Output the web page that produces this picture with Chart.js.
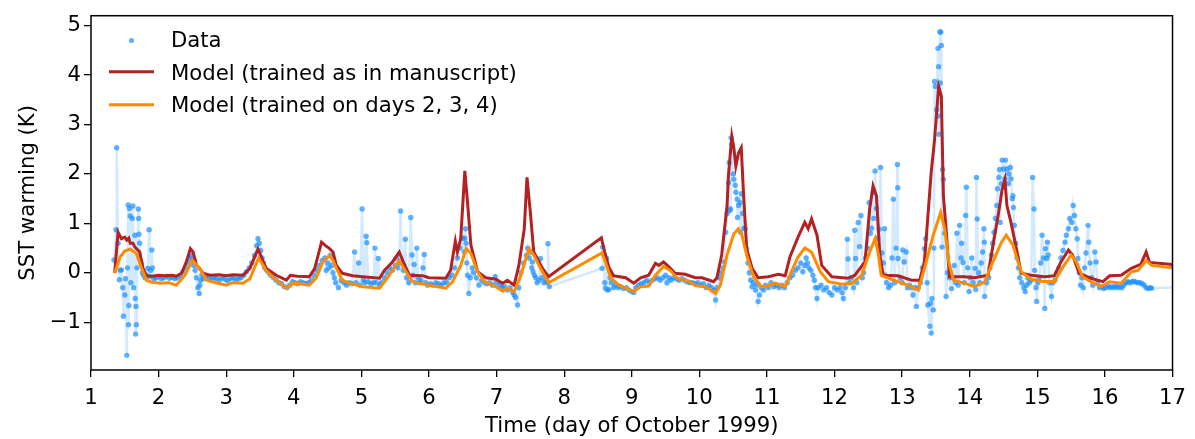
<!DOCTYPE html>
<html>
<head>
<meta charset="utf-8">
<script src="https://cdn.jsdelivr.net/npm/chart.js@4"></script>
<style>
  html, body { margin: 0; padding: 0; background: #fff; }
  #wrap { width: 1195px; height: 439px; }
</style>
</head>
<body>
<div id="wrap"><canvas id="sstChart" width="1195" height="439"></canvas></div>
<script>
// observed SST warming, [day of October 1999, K]
const obsPoints = [
  [1.34,0.26],[1.37,0.87],[1.38,2.53],[1.40,0.6],[1.42,-0.14],[1.43,0.05],[1.45,0.06],[1.47,-0.3],[1.48,-0.88],[1.50,-0.45],
  [1.51,-0.12],[1.53,-1.67],[1.54,0.1],[1.55,1.37],[1.555,-1.05],[1.56,-0.66],[1.57,1.3],[1.58,1.15],[1.59,-0.2],[1.61,1.1],
  [1.62,1.35],[1.63,-0.3],[1.65,0.76],[1.655,-0.52],[1.66,-1.24],[1.665,-0.68],[1.67,-1.05],[1.68,0.1],[1.70,1.29],[1.705,1.1],
  [1.71,0.78],[1.715,0.34],[1.72,0.6],[1.74,0.2],[1.76,0.0],[1.78,-0.05],[1.80,-0.1],[1.82,-0.05],[1.84,0.09],[1.86,0.87],
  [1.87,-0.08],[1.88,0.05],[1.90,0.46],[1.91,0.1],[1.93,-0.12],[1.96,-0.1],[2.00,-0.08],[2.04,-0.12],[2.08,-0.1],[2.12,-0.07],
  [2.16,-0.11],[2.20,-0.09],[2.24,-0.12],[2.28,-0.1],[2.32,-0.05],[2.36,0.02],[2.40,0.1],[2.43,0.2],[2.46,0.3],[2.48,0.35],
  [2.50,0.25],[2.52,0.15],[2.54,0.05],[2.56,-0.1],[2.58,-0.3],[2.60,-0.42],[2.61,-0.25],[2.62,-0.15],[2.64,-0.05],[2.66,-0.12],
  [2.70,-0.08],[2.74,-0.1],[2.78,-0.14],[2.82,-0.1],[2.86,-0.12],[2.90,-0.15],[2.94,-0.1],[2.98,-0.13],[3.02,-0.16],[3.06,-0.12],
  [3.10,-0.1],[3.14,-0.14],[3.18,-0.12],[3.22,-0.1],[3.26,-0.05],[3.30,0.02],[3.34,0.1],[3.38,0.2],[3.42,0.35],[3.45,0.55],
  [3.47,0.69],[3.49,0.6],[3.51,0.45],[3.53,0.3],[3.55,0.2],[3.57,0.1],[3.60,0.05],[3.63,0.0],[3.66,-0.05],[3.70,-0.1],
  [3.74,-0.15],[3.78,-0.2],[3.82,-0.22],[3.86,-0.28],[3.90,-0.3],[3.94,-0.25],[3.98,-0.18],[4.02,-0.2],[4.06,-0.22],[4.10,-0.18],
  [4.14,-0.2],[4.18,-0.22],[4.22,-0.2],[4.26,-0.15],[4.30,-0.05],[4.34,0.05],[4.38,0.15],[4.42,0.25],[4.46,0.3],[4.48,0.05],
  [4.50,0.2],[4.52,0.1],[4.54,0.35],[4.56,0.15],[4.58,0.0],[4.60,-0.1],[4.62,-0.2],[4.66,-0.3],[4.70,-0.15],[4.74,-0.2],
  [4.78,-0.25],[4.82,-0.2],[4.86,-0.22],[4.90,0.42],[4.92,-0.2],[4.96,0.2],[4.98,-0.25],[5.01,1.29],[5.03,-0.15],[5.05,-0.2],
  [5.07,0.74],[5.08,0.61],[5.10,-0.18],[5.14,-0.22],[5.18,-0.2],[5.20,0.5],[5.22,-0.2],[5.25,0.29],[5.27,-0.25],[5.30,-0.2],
  [5.34,-0.1],[5.38,0.0],[5.42,0.1],[5.46,0.05],[5.50,0.15],[5.52,0.3],[5.54,0.1],[5.56,0.2],[5.58,1.25],[5.60,0.2],
  [5.62,0.05],[5.65,0.68],[5.67,-0.1],[5.70,-0.2],[5.73,1.12],[5.75,0.36],[5.76,-0.05],[5.78,0.17],[5.80,-0.2],[5.82,0.5],
  [5.84,-0.1],[5.86,-0.2],[5.88,-0.15],[5.91,0.1],[5.93,0.37],[5.95,-0.2],[5.98,-0.25],[6.02,-0.22],[6.06,-0.25],[6.10,-0.2],
  [6.14,-0.22],[6.18,-0.25],[6.22,-0.2],[6.26,-0.2],[6.30,-0.1],[6.34,-0.05],[6.38,0.1],[6.42,0.3],[6.46,0.5],[6.50,0.7],
  [6.52,0.42],[6.53,0.7],[6.54,0.89],[6.55,0.6],[6.56,0.2],[6.57,-0.05],[6.59,-0.42],[6.61,-0.1],[6.64,0.1],[6.66,0.0],
  [6.70,-0.1],[6.74,-0.25],[6.78,-0.15],[6.82,-0.2],[6.86,-0.22],[6.90,-0.2],[6.94,-0.25],[6.98,-0.08],[7.00,-0.2],[7.05,-0.25],
  [7.08,-0.3],[7.12,-0.28],[7.16,-0.35],[7.20,-0.3],[7.24,-0.4],[7.26,-0.45],[7.28,-0.5],[7.31,-0.65],[7.33,-0.3],[7.36,0.0],
  [7.40,0.2],[7.44,0.35],[7.46,0.5],[7.48,0.3],[7.50,0.42],[7.52,0.1],[7.53,0.22],[7.54,0.02],[7.56,-0.05],[7.58,-0.1],
  [7.60,-0.2],[7.63,-0.15],[7.65,0.29],[7.67,-0.1],[7.70,-0.2],[7.73,-0.15],[7.75,-0.2],[7.76,0.59],[7.78,-0.28],
  [8.56,0.09],[8.57,0.52],[8.60,-0.2],[8.61,-0.31],[8.63,0.29],[8.64,-0.35],[8.66,-0.34],[8.68,-0.1],[8.70,-0.2],[8.73,-0.3],
  [8.76,-0.25],[8.80,-0.3],[8.84,-0.28],[8.88,-0.32],[8.92,-0.3],[8.96,-0.35],[9.00,-0.38],[9.03,-0.4],[9.06,-0.3],[9.10,-0.25],
  [9.14,-0.22],[9.18,-0.2],[9.22,-0.15],[9.26,-0.2],[9.30,-0.15],[9.34,-0.12],[9.38,-0.1],[9.42,-0.15],[9.46,-0.1],[9.50,-0.05],
  [9.52,-0.2],[9.55,-0.1],[9.58,-0.15],[9.62,-0.1],[9.66,-0.12],[9.70,-0.15],[9.74,-0.12],[9.78,-0.15],[9.82,-0.18],[9.86,-0.2],
  [9.90,-0.2],[9.94,-0.22],[9.98,-0.2],[10.02,-0.25],[10.06,-0.22],[10.10,-0.3],[10.14,-0.25],[10.18,-0.3],[10.22,-0.35],[10.24,-0.55],
  [10.26,-0.3],[10.29,-0.1],[10.32,0.0],[10.35,0.1],[10.37,0.22],[10.39,0.82],[10.41,1.2],[10.43,1.82],[10.44,2.23],[10.45,1.26],
  [10.46,1.29],[10.47,2.73],[10.48,2.6],[10.50,2.0],[10.51,1.89],[10.53,1.77],[10.54,1.63],[10.56,1.49],[10.565,1.12],[10.58,1.36],
  [10.60,1.42],[10.61,0.82],[10.62,1.6],[10.64,1.2],[10.66,0.9],[10.68,0.89],[10.70,0.49],[10.72,0.2],[10.74,0.0],[10.76,-0.15],
  [10.78,-0.28],[10.80,-0.2],[10.83,-0.35],[10.85,-0.25],[10.87,-0.58],[10.89,-0.45],[10.92,-0.3],[10.95,-0.35],[10.98,-0.25],[11.02,-0.3],
  [11.06,-0.2],[11.10,-0.28],[11.14,-0.25],[11.18,-0.3],[11.22,-0.25],[11.26,-0.3],[11.30,-0.2],[11.34,-0.1],[11.38,-0.05],[11.42,0.05],
  [11.46,0.1],[11.50,0.2],[11.53,0.02],[11.56,0.15],[11.58,0.3],[11.60,0.2],[11.62,0.1],[11.65,0.05],[11.68,-0.05],[11.70,-0.15],
  [11.72,-0.3],[11.74,-0.52],[11.76,-0.3],[11.80,-0.25],[11.84,-0.35],[11.88,-0.3],[11.92,-0.4],[11.96,-0.45],[12.00,-0.3],[12.04,-0.35],
  [12.08,-0.3],[12.11,-0.4],[12.13,-0.52],[12.16,-0.3],[12.19,0.68],[12.20,0.28],[12.22,-0.2],[12.25,-0.1],[12.28,-0.3],[12.30,0.86],
  [12.31,0.29],[12.33,-0.2],[12.35,1.02],[12.37,0.53],[12.39,1.16],[12.41,-0.1],[12.43,0.0],[12.46,0.3],[12.49,0.5],[12.51,1.42],
  [12.53,0.8],[12.55,0.9],[12.57,1.62],[12.58,1.1],[12.60,2.06],[12.62,1.3],[12.64,0.7],[12.66,0.88],[12.68,2.13],[12.70,0.4],
  [12.72,0.2],[12.74,0.89],[12.75,-0.05],[12.77,-0.2],[12.80,-0.3],[12.83,-0.25],[12.85,0.3],[12.87,1.49],[12.89,-0.2],[12.91,0.5],
  [12.93,2.19],[12.935,1.72],[12.94,0.29],[12.97,-0.1],[13.00,-0.2],[13.01,0.46],[13.03,0.22],[13.06,0.42],[13.08,-0.3],[13.11,-0.25],
  [13.14,-0.3],[13.16,-0.45],[13.19,-0.3],[13.21,-0.68],[13.24,-0.3],[13.27,-0.2],[13.30,0.1],[13.33,0.49],[13.35,0.69],[13.37,-0.2],
  [13.38,-0.65],[13.41,-1.08],[13.42,-0.62],[13.43,-1.22],[13.44,-0.52],[13.46,-0.75],[13.47,0.5],[13.48,3.87],[13.49,3.77],[13.51,3.3],
  [13.53,4.54],[13.535,3.17],[13.54,4.17],[13.545,2.8],[13.56,4.87],[13.565,3.84],[13.57,4.87],[13.58,4.6],[13.59,0.52],[13.60,2.09],
  [13.61,1.89],[13.63,0.8],[13.65,-0.48],[13.67,0.0],[13.70,-0.1],[13.73,-0.32],[13.75,-0.1],[13.77,0.15],[13.79,-0.2],[13.81,0.8],
  [13.83,-0.25],[13.85,0.96],[13.87,0.3],[13.88,0.6],[13.90,0.21],[13.92,-0.2],[13.94,1.16],[13.95,1.73],[13.97,0.1],[13.99,-0.38],
  [14.01,-0.1],[14.03,0.3],[14.05,-0.2],[14.08,0.09],[14.09,-0.34],[14.10,1.93],[14.11,1.09],[14.13,0.0],[14.15,-0.2],[14.17,0.2],
  [14.19,0.42],[14.21,0.89],[14.215,0.62],[14.22,-0.48],[14.25,-0.2],[14.28,-0.1],[14.30,0.1],[14.32,0.36],[14.34,0.6],[14.36,0.82],
  [14.38,1.1],[14.40,1.36],[14.41,1.7],[14.43,1.93],[14.44,2.09],[14.45,1.02],[14.47,1.8],[14.48,2.28],[14.50,2.1],[14.52,1.9],
  [14.53,2.28],[14.55,2.1],[14.57,1.8],[14.58,2.0],[14.60,2.13],[14.61,1.9],[14.63,1.5],[14.64,1.56],[14.645,1.32],[14.66,0.96],
  [14.68,0.6],[14.70,0.3],[14.72,0.1],[14.74,-0.1],[14.77,-0.2],[14.80,-0.3],[14.82,-0.38],[14.84,-0.25],[14.86,-0.1],[14.88,-0.2],
  [14.91,-0.15],[14.93,1.93],[14.95,1.29],[14.96,0.05],[14.98,-0.3],[14.99,-0.58],[15.01,-0.2],[15.03,-0.1],[15.05,0.2],[15.07,0.76],
  [15.09,0.3],[15.11,-0.72],[15.12,0.49],[15.14,0.29],[15.15,0.62],[15.16,0.36],[15.18,-0.2],[15.21,-0.48],[15.23,-0.2],[15.26,-0.15],
  [15.29,0.0],[15.32,0.1],[15.35,0.3],[15.38,0.45],[15.41,0.62],[15.43,0.76],[15.46,0.89],[15.48,1.1],[15.51,1.02],[15.53,1.36],
  [15.55,1.16],[15.57,0.89],[15.59,0.69],[15.60,0.29],[15.62,0.0],[15.64,-0.25],[15.66,-0.1],[15.68,-0.3],[15.70,0.1],[15.72,0.4],
  [15.75,0.96],[15.76,0.62],[15.78,0.2],[15.80,-0.1],[15.82,-0.25],[15.85,0.42],[15.87,0.22],[15.89,-0.2],[15.92,-0.3],[15.95,-0.28],
  [15.98,-0.32],[16.01,-0.3],[16.04,-0.26],[16.07,-0.3],[16.10,-0.28],[16.13,-0.3],[16.16,-0.27],[16.19,-0.3],[16.22,-0.28],[16.25,-0.3],
  [16.28,-0.25],[16.31,-0.2],[16.34,-0.18],[16.37,-0.2],[16.40,-0.18],[16.43,-0.17],[16.46,-0.19],[16.49,-0.2],[16.52,-0.2],[16.55,-0.22],
  [16.58,-0.25],[16.61,-0.3],[16.64,-0.32],[16.67,-0.3],[16.69,-0.31],[17.3,-0.29]
];

// model trained as in manuscript
const modelManuscript = [
  [1.35,0.0],[1.40,0.82],[1.45,0.69],[1.50,0.72],[1.53,0.66],[1.56,0.7],[1.58,0.6],[1.62,0.6],[1.65,0.52],[1.72,0.42],
  [1.77,0.09],[1.82,-0.06],[1.9,-0.07],[2.0,-0.05],[2.1,-0.06],[2.2,-0.05],[2.26,-0.07],[2.34,-0.01],[2.41,0.22],[2.47,0.49],
  [2.51,0.42],[2.56,0.16],[2.66,-0.01],[2.76,-0.05],[2.9,-0.04],[3.0,-0.06],[3.1,-0.04],[3.25,-0.05],[3.35,0.09],[3.47,0.48],
  [3.52,0.32],[3.59,0.09],[3.74,-0.05],[3.89,-0.15],[3.95,-0.05],[4.05,-0.07],[4.23,-0.08],[4.31,0.09],[4.41,0.62],[4.47,0.55],
  [4.53,0.49],[4.58,0.42],[4.63,0.15],[4.72,-0.01],[4.87,-0.06],[5.02,-0.08],[5.27,-0.11],[5.34,0.05],[5.46,0.22],[5.56,0.42],
  [5.62,0.22],[5.71,-0.05],[5.91,-0.06],[6.0,-0.1],[6.25,-0.11],[6.32,0.05],[6.39,0.64],[6.42,0.42],[6.47,0.69],[6.53,2.06],
  [6.57,1.43],[6.62,0.56],[6.72,0.02],[6.84,-0.1],[6.99,-0.13],[7.09,-0.21],[7.16,-0.15],[7.26,-0.25],[7.33,0.15],[7.41,0.89],
  [7.45,1.93],[7.50,1.22],[7.55,0.42],[7.68,0.09],[7.77,-0.08],[8.55,0.71],[8.60,0.42],[8.66,0.12],[8.73,-0.06],[8.91,-0.1],
  [9.03,-0.21],[9.13,-0.1],[9.25,-0.05],[9.35,0.19],[9.40,0.15],[9.47,0.22],[9.55,0.12],[9.64,-0.01],[9.79,-0.03],[9.94,-0.1],
  [10.04,-0.1],[10.21,-0.18],[10.26,-0.1],[10.33,0.36],[10.41,1.36],[10.43,1.96],[10.48,2.76],[10.51,2.53],[10.54,2.16],[10.58,2.43],
  [10.62,2.53],[10.65,1.69],[10.70,0.49],[10.78,0.09],[10.87,-0.1],[11.02,-0.08],[11.17,-0.03],[11.27,-0.06],[11.34,0.32],[11.46,0.72],
  [11.56,1.02],[11.61,0.89],[11.66,1.09],[11.74,0.76],[11.81,0.15],[11.96,-0.08],[12.2,-0.11],[12.3,-0.05],[12.45,0.22],[12.52,1.29],
  [12.57,1.76],[12.62,1.56],[12.67,0.36],[12.72,-0.05],[12.94,-0.06],[13.14,-0.15],[13.26,-0.15],[13.33,0.22],[13.43,2.03],[13.48,2.70],
  [13.54,3.77],[13.58,3.57],[13.61,1.56],[13.65,0.89],[13.70,-0.08],[13.92,-0.08],[14.07,-0.1],[14.27,-0.05],[14.32,0.36],[14.42,1.16],
  [14.48,1.69],[14.52,1.89],[14.55,1.36],[14.61,1.02],[14.69,0.49],[14.76,-0.01],[14.91,-0.05],[15.11,-0.08],[15.25,-0.06],[15.35,0.22],
  [15.46,0.46],[15.52,0.36],[15.62,-0.01],[15.79,-0.11],[15.97,-0.18],[16.07,-0.06],[16.24,-0.05],[16.39,0.09],[16.53,0.17],[16.61,0.42],
  [16.66,0.21],[17.0,0.17]
];

// model trained on days 2, 3, 4
const modelDays234 = [
  [1.35,-0.01],[1.43,0.32],[1.50,0.44],[1.58,0.48],[1.67,0.39],[1.75,0.09],[1.82,-0.15],[1.9,-0.19],[2.02,-0.21],[2.15,-0.2],
  [2.26,-0.25],[2.39,-0.05],[2.50,0.25],[2.61,0.09],[2.71,-0.15],[2.85,-0.2],[3.0,-0.25],[3.1,-0.2],[3.25,-0.21],[3.35,-0.12],
  [3.48,0.30],[3.59,0.05],[3.74,-0.15],[3.89,-0.31],[3.99,-0.21],[4.1,-0.22],[4.23,-0.25],[4.33,-0.11],[4.43,0.22],[4.53,0.35],
  [4.58,0.25],[4.63,0.09],[4.72,-0.15],[4.82,-0.21],[5.02,-0.28],[5.27,-0.31],[5.36,-0.15],[5.46,0.05],[5.56,0.25],[5.66,0.02],
  [5.76,-0.18],[6.0,-0.25],[6.25,-0.31],[6.35,-0.18],[6.47,0.15],[6.55,0.49],[6.62,0.39],[6.72,0.02],[6.82,-0.18],[6.99,-0.28],
  [7.09,-0.37],[7.16,-0.31],[7.26,-0.38],[7.36,-0.05],[7.48,0.49],[7.55,0.36],[7.65,0.09],[7.77,-0.2],[8.56,0.40],[8.61,0.22],
  [8.69,-0.11],[8.81,-0.25],[9.03,-0.38],[9.13,-0.28],[9.25,-0.27],[9.35,-0.05],[9.47,0.13],[9.57,0.05],[9.67,-0.11],[9.84,-0.17],
  [9.94,-0.26],[10.09,-0.28],[10.24,-0.42],[10.31,-0.25],[10.41,0.36],[10.51,0.79],[10.58,0.89],[10.63,0.76],[10.70,0.36],[10.80,-0.08],
  [10.92,-0.28],[10.97,-0.28],[11.12,-0.21],[11.27,-0.28],[11.36,0.02],[11.46,0.32],[11.56,0.5],[11.66,0.42],[11.79,0.02],[11.91,-0.18],
  [12.11,-0.23],[12.26,-0.21],[12.40,-0.05],[12.52,0.42],[12.60,0.69],[12.65,0.36],[12.69,-0.05],[12.84,-0.13],[13.04,-0.23],[13.24,-0.35],
  [13.33,0.09],[13.46,0.76],[13.57,1.22],[13.63,0.89],[13.69,0.22],[13.76,-0.15],[13.92,-0.21],[14.07,-0.28],[14.22,-0.19],[14.32,0.15],
  [14.47,0.62],[14.54,0.76],[14.64,0.56],[14.76,0.02],[14.91,-0.13],[15.06,-0.17],[15.25,-0.18],[15.38,0.12],[15.50,0.36],[15.58,0.21],
  [15.67,-0.08],[15.79,-0.18],[15.94,-0.28],[16.07,-0.18],[16.24,-0.21],[16.39,0.02],[16.49,0.05],[16.61,0.25],[16.69,0.15],[17.0,0.1]
];

const xTicks = [1,2,3,4,5,6,7,8,9,10,11,12,13,14,15,16,17];
const yTicks = [-1,0,1,2,3,4,5];
const legendLabels = ["Data", "Model (trained as in manuscript)", "Model (trained on days 2, 3, 4)"];

const FONT = '"DejaVu Sans", sans-serif';
const FONT_SIZE = 21.2;
const blueDot = "rgba(30,144,255,0.7)";
const blueLine = "rgba(30,144,255,0.2)";
const red = "#b22222";
const orange = "#ff8c00";

const toXY = arr => arr.map(p => ({ x: p[0], y: p[1] }));

// frame + legend drawn like the matplotlib original
const framePlugin = {
    id: "frameAndLegend",
    afterDraw(chart) {
        const ctx = chart.ctx;
        const a = chart.chartArea;
        ctx.save();
        ctx.strokeStyle = "#000";
        ctx.lineWidth = 1.5;
        ctx.strokeRect(a.left, a.top, a.right - a.left, a.bottom - a.top);

        ctx.font = FONT_SIZE + "px " + FONT;
        ctx.textBaseline = "middle";
        const rows = [41.5, 74, 106.5];
        // data marker
        ctx.fillStyle = blueDot;
        ctx.beginPath();
        ctx.arc(131.5, 40.5, 2.6, 0, Math.PI * 2);
        ctx.fill();
        // model lines
        ctx.lineWidth = 3;
        ctx.strokeStyle = red;
        ctx.beginPath(); ctx.moveTo(109, 71.7); ctx.lineTo(154, 71.7); ctx.stroke();
        ctx.strokeStyle = orange;
        ctx.beginPath(); ctx.moveTo(109, 104.7); ctx.lineTo(154, 104.7); ctx.stroke();
        ctx.fillStyle = "#000";
        legendLabels.forEach((t, i) => ctx.fillText(t, 171, rows[i]));
        ctx.restore();
    }
};

const ctx = document.getElementById("sstChart").getContext("2d");
new Chart(ctx, {
    type: "scatter",
    data: {
        datasets: [
            {
                label: legendLabels[2],
                data: toXY(modelDays234),
                showLine: true,
                borderColor: orange,
                borderWidth: 3,
                pointRadius: 0,
                order: 0
            },
            {
                label: legendLabels[1],
                data: toXY(modelManuscript),
                showLine: true,
                borderColor: red,
                borderWidth: 3,
                pointRadius: 0,
                order: 1
            },
            {
                label: legendLabels[0],
                data: toXY(obsPoints),
                showLine: true,
                borderColor: blueLine,
                borderWidth: 2.5,
                pointRadius: 2.7,
                pointBackgroundColor: blueDot,
                pointBorderWidth: 0,
                order: 2
            }
        ]
    },
    options: {
        responsive: false,
        animation: false,
        layout: { padding: { top: 11.7, right: 20, left: 0, bottom: 0 } },
        plugins: {
            legend: { display: false },
            tooltip: { enabled: false }
        },
        scales: {
            x: {
                type: "linear",
                min: 1,
                max: 17,
                afterBuildTicks: s => { s.ticks = xTicks.map(v => ({ value: v })); },
                afterFit: s => { s.height = 69; },
                grid: { drawOnChartArea: false, drawTicks: true, tickLength: 7, color: "#000", lineWidth: 1.3 },
                border: { display: false },
                ticks: { color: "#000", padding: 9, maxRotation: 0, font: { family: FONT, size: FONT_SIZE } },
                title: {
                    display: true,
                    text: "Time (day of October 1999)",
                    color: "#000",
                    font: { family: FONT, size: FONT_SIZE },
                    padding: { top: 0, bottom: 0 }
                }
            },
            y: {
                type: "linear",
                min: -1.966,
                max: 5.2,
                afterBuildTicks: s => { s.ticks = yTicks.map(v => ({ value: v })); },
                afterFit: s => { s.width = 91; },
                grid: { drawOnChartArea: false, drawTicks: true, tickLength: 7, color: "#000", lineWidth: 1.3 },
                border: { display: false },
                ticks: {
                    color: "#000",
                    padding: 3,
                    font: { family: FONT, size: FONT_SIZE },
                    callback: v => (v < 0 ? "\u2212" + Math.abs(v) : String(v))
                },
                title: {
                    display: true,
                    text: "SST warming (K)",
                    color: "#000",
                    font: { family: FONT, size: FONT_SIZE },
                    padding: { top: 16, bottom: 0 }
                }
            }
        }
    },
    plugins: [framePlugin]
});
</script>
</body>
</html>
